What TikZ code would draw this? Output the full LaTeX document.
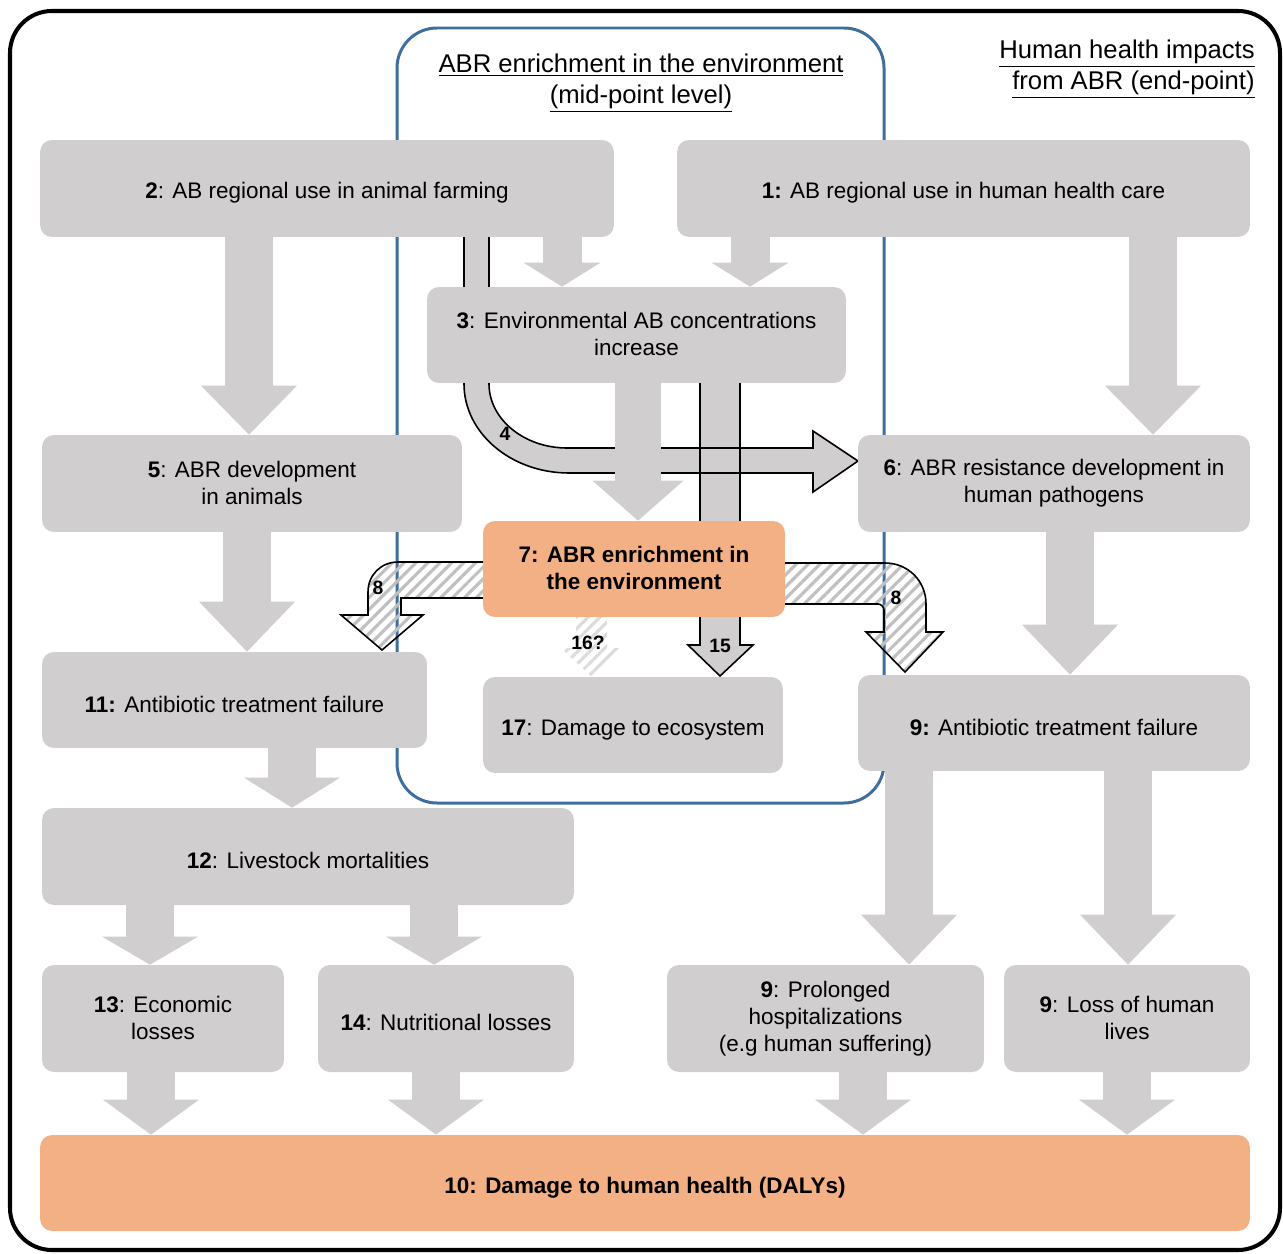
\documentclass[tikz,border=0pt]{standalone}
\usepackage{fontspec}
\setmainfont{Liberation Sans}
\usetikzlibrary{arrows.meta,patterns.meta,backgrounds}
\definecolor{boxgray}{RGB}{208,206,207}
\definecolor{abrorange}{RGB}{243,176,132}
\definecolor{frameblue}{RGB}{62,110,158}
\definecolor{hatchgray}{RGB}{192,192,192}
\newcommand{\boxstrut}{\rule[-0.8pt]{0pt}{15.4pt}}

\begin{document}
\begin{tikzpicture}[x=0.02cm, y=-0.02cm,
  box/.style={fill=boxgray, rounded corners=0.24cm, align=center, inner sep=0pt, font=\fontsize{12.8}{15.4}\selectfont, execute at begin node=\boxstrut, execute at end node=\boxstrut},
  hotbox/.style={box, fill=abrorange, font=\fontsize{12.8}{15.4}\selectfont\bfseries},
  heading/.style={font=\fontsize{14.6}{17.6}\selectfont, inner sep=0pt},
  garrow/.style={draw=boxgray, line width=0.96cm, -{Triangle[length=#1, width=1.92cm, line width=0pt]}},
  garrow/.default=1cm,
  smallgarrow/.style={draw=boxgray, line width=0.78cm, -{Triangle[length=0.48cm, width=1.54cm, line width=0pt]}},
  outarrow/.style={fill=boxgray, draw=black, line width=0.9pt, line join=miter},
  hatcharrow/.style={pattern={Lines[angle=45, distance=4.8pt, line width=1.8pt]}, pattern color=hatchgray, draw=black, line width=0.9pt},
  faintarrow/.style={pattern={Lines[angle=45, distance=4.8pt, line width=1.8pt]}, pattern color=hatchgray!55},
  numlabel/.style={font=\fontsize{11}{13}\selectfont\bfseries, inner sep=1pt}
]
\useasboundingbox (0,0) rectangle (1283,1253);

% boxes
\node[box, minimum width=11.48cm, minimum height=1.94cm] (farm) at (327,188.5) {\textbf{2}: AB regional use in animal farming};
\node[box, minimum width=11.46cm, minimum height=1.94cm] (care) at (963.5,188.5) {\textbf{1:} AB regional use in human health care};
\node[box, minimum width=8.38cm, minimum height=1.92cm] (conc) at (636.5,335) {\textbf{3}: Environmental AB concentrations\\increase};
\node[box, minimum width=8.4cm, minimum height=1.94cm] (abranimal) at (252,483.5) {\textbf{5}: ABR development\\in animals};
\node[box, minimum width=7.84cm, minimum height=1.94cm] (abrhuman) at (1054,483.5) {\textbf{6}: ABR resistance development in\\human pathogens};
\node[hotbox, minimum width=6.04cm, minimum height=1.92cm] (enrich) at (634,569) {7: ABR enrichment in\\the environment};
\node[box, minimum width=7.7cm, minimum height=1.92cm] (failanimal) at (234.5,700) {\textbf{11:} Antibiotic treatment failure};
\node[box, minimum width=6cm, minimum height=1.92cm] (ecosys) at (633,725) {\textbf{17}: Damage to ecosystem};
\node[box, minimum width=7.84cm, minimum height=1.92cm] (failhuman) at (1054,723) {\textbf{9:} Antibiotic treatment failure};
\node[box, minimum width=10.64cm, minimum height=1.94cm] (livestock) at (308,856.5) {\textbf{12}: Livestock mortalities};
\node[box, minimum width=4.84cm, minimum height=2.14cm] (economic) at (163,1018.5) {\textbf{13}: Economic\\losses};
\node[box, minimum width=5.12cm, minimum height=2.14cm] (nutrition) at (446,1018.5) {\textbf{14}: Nutritional losses};
\node[box, minimum width=6.34cm, minimum height=2.14cm] (hospital) at (825.5,1018.5) {\textbf{9}: Prolonged\\hospitalizations\\(e.g human suffering)};
\node[box, minimum width=4.92cm, minimum height=2.14cm] (lives) at (1127,1018.5) {\textbf{9}: Loss of human\\lives};
\node[hotbox, minimum width=24.2cm, minimum height=1.92cm] (dalys) at (645,1183) {10: Damage to human health (DALYs)};

% headings
\node[heading, align=center] (midpoint) at (641,83) {\underline{ABR enrichment in the environment}\\\underline{(mid-point level)}};
\node[heading, align=right, anchor=east] (endpoint) at (1255,69) {\underline{Human health impacts}\\\underline{from ABR (end-point)}};

\begin{scope}[on background layer]
% mid-point frame
\draw[frameblue, line width=1.7pt, rounded corners=0.8cm] (397,28) rectangle (884,803);
% 15 (fill first, outline after 4)
\fill[boxgray] (700,375) -- (700,645) -- (688,645) -- (720,676) -- (753,645) -- (740,645) -- (740,375) -- cycle;
% 4
\draw[outarrow] (464,230) -- (464,384) .. controls (464,433) and (511,473) .. (569,473) -- (813,473) -- (813,492) -- (858,461) -- (813,431) -- (813,448) -- (567,448) .. controls (524,448) and (489,419) .. (489,384) -- (489,230) -- cycle;
\draw[black, line width=0.9pt, line join=miter] (700,375) -- (700,645) -- (688,645) -- (720,676) -- (753,645) -- (740,645) -- (740,375);
% 8, left and right
\draw[hatcharrow] (495,562) -- (398,562) .. controls (381,562) and (368,575) .. (368,592) -- (368,615) -- (341,615) -- (382,650) -- (423,615) -- (401,615) -- (401,598) -- (495,598) -- cycle;
\draw[hatcharrow] (775,563) -- (885,563) .. controls (908,563) and (926,581) .. (926,604) -- (926,632) -- (943,632) -- (905,672) -- (866,632) -- (884,632) -- (884,610) .. controls (884,607) and (881,604) .. (878,604) -- (775,604) -- cycle;
% 16?
\fill[faintarrow] (576,612) -- (576,648) -- (561,648) -- (591,676) -- (621,648) -- (607,648) -- (607,612) -- cycle;
\end{scope}

% gray flow arrows
\draw[garrow=0.98cm] (farm.south -| 249,0) -- (abranimal.north -| 249,0);
\draw[smallgarrow] (farm.south -| 562,0) -- (conc.north -| 562,0);
\draw[smallgarrow] (care.south -| 750,0) -- (conc.north -| 750,0);
\draw[garrow=0.98cm] (care.south -| 1153,0) -- (abrhuman.north -| 1153,0);
\draw[draw=boxgray, line width=0.92cm, -{Triangle[length=0.8cm, width=1.82cm, line width=0pt]}] (conc.south -| 638,0) -- (enrich.north -| 638,0);
\draw[garrow] (abranimal.south -| 247,0) -- (failanimal.north -| 247,0);
\draw[garrow] (abrhuman.south -| 1070,0) -- (failhuman.north -| 1070,0);
\draw[garrow=0.6cm] (failanimal.south -| 292,0) -- (livestock.north -| 292,0);
\draw[garrow=0.56cm] (livestock.south -| 150,0) -- (economic.north -| 150,0);
\draw[garrow=0.56cm] (livestock.south -| 434,0) -- (nutrition.north -| 434,0);
\draw[garrow] (failhuman.south -| 909,0) -- (hospital.north -| 909,0);
\draw[garrow] (failhuman.south -| 1128,0) -- (lives.north -| 1128,0);
\draw[garrow=0.7cm] (economic.south -| 151,0) -- (dalys.north -| 151,0);
\draw[garrow=0.7cm] (nutrition.south -| 436,0) -- (dalys.north -| 436,0);
\draw[garrow=0.7cm] (hospital.south -| 863,0) -- (dalys.north -| 863,0);
\draw[garrow=0.7cm] (lives.south -| 1127,0) -- (dalys.north -| 1127,0);

% arrow numbers
\node[numlabel] (lbl4) at (505,434) {4};
\node[numlabel] (lbl8a) at (378,588) {8};
\node[numlabel] (lbl8b) at (896,598) {8};
\node[numlabel] (lbl16) at (588,643) {16?};
\node[numlabel] (lbl15) at (720,646) {15};

% outer frame
\draw[line width=2.3pt, rounded corners=0.84cm] (10,11) rectangle (1280,1250);
\end{tikzpicture}
\end{document}
